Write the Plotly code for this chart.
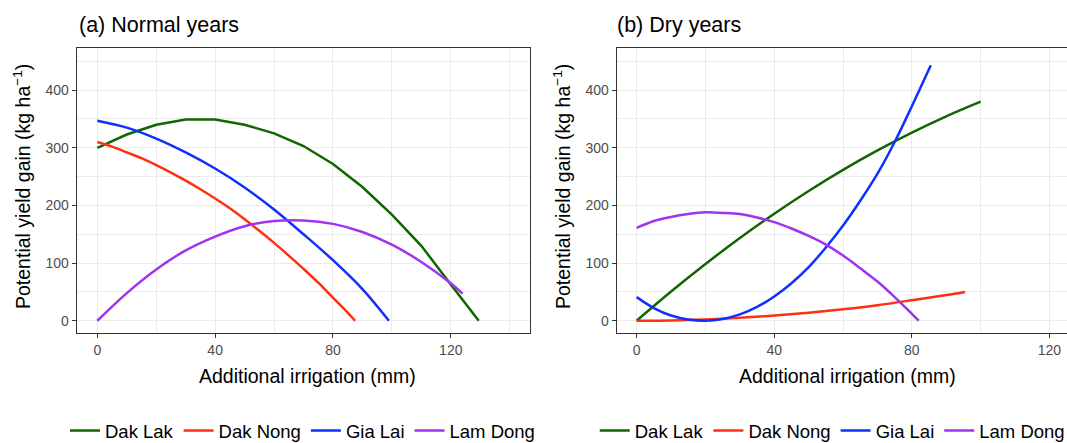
import plotly.graph_objects as go

regions = ["Dak Lak", "Dak Nong", "Gia Lai", "Lam Dong"]
colors = ["#116600", "#FF3010", "#1030FF", "#A033EE"]

# (a) Normal years
normal_x = {
    "Dak Lak": [0, 10, 20, 30, 40, 50, 60, 70, 80, 90, 100, 110, 120, 129.5],
    "Dak Nong": [0, 5, 10, 15, 20, 25, 30, 35, 40, 45, 50, 55, 60, 65, 70, 75, 80, 85, 87.5],
    "Gia Lai": [0, 10, 20, 30, 40, 50, 60, 70, 80, 90, 99],
    "Lam Dong": [0, 10, 20, 30, 40, 50, 60, 70, 80, 90, 100, 110, 120, 124],
}
normal_y = {
    "Dak Lak": [300, 323, 340, 349, 349, 340, 325, 303, 272, 232, 184, 130, 63, 0],
    "Dak Nong": [310, 302, 292, 282, 270, 257, 243, 228, 212, 195, 176, 156, 135, 113, 90, 66, 40, 14, 0],
    "Gia Lai": [347, 335, 316, 292, 264, 231, 193, 150, 105, 55, 0],
    "Lam Dong": [0, 48, 89, 122, 146, 164, 173, 174, 168, 154, 132, 102, 65, 47],
}

# (b) Dry years
dry_x = {
    "Dak Lak": [0, 10, 20, 30, 40, 50, 60, 70, 80, 90, 100],
    "Dak Nong": [0, 10, 20, 30, 40, 50, 60, 70, 80, 90, 95.5],
    "Gia Lai": [0, 5, 10, 15, 20, 25, 30, 35, 40, 45, 50, 55, 60, 65, 70, 75, 80, 85.5],
    "Lam Dong": [0, 5, 10, 15, 20, 25, 30, 35, 40, 45, 50, 55, 60, 65, 70, 75, 80, 82],
}
dry_y = {
    "Dak Lak": [0, 50.6, 98.4, 143.4, 185.6, 225, 261.6, 295.4, 326.4, 354.6, 380],
    "Dak Nong": [0, 0.6, 2.2, 5, 9, 14, 20, 27, 35.5, 44.5, 50],
    "Gia Lai": [41, 22, 9, 2, 0, 3, 11, 24, 42, 65, 93, 127, 165, 208, 255, 310, 372, 443],
    "Lam Dong": [161, 173, 180, 185, 188, 187, 185, 179, 171, 160, 147, 132, 113, 91, 68, 41, 12, 0],
}

x_ticks = [0, 40, 80, 120]
y_ticks = [0, 100, 200, 300, 400]

fig = go.Figure()
for name, col in zip(regions, colors):
    fig.add_trace(go.Scatter(
        x=normal_x[name], y=normal_y[name], mode="lines", name=name,
        line=dict(color=col, width=2.5, shape="linear" if name == "Dak Lak" else "spline"),
        xaxis="x", yaxis="y", legend="legend"))
for name, col in zip(regions, colors):
    fig.add_trace(go.Scatter(
        x=dry_x[name], y=dry_y[name], mode="lines", name=name,
        line=dict(color=col, width=2.5, shape="spline"),
        xaxis="x2", yaxis="y2", legend="legend2"))

FONT = "Liberation Sans, Arial, Helvetica, sans-serif"
grid = "#EBEBEB"
border = "#333333"
tickfont = dict(family=FONT, size=14, color="#4D4D4D")

def xax(domain, rng, anchor, mirror):
    return dict(domain=domain, range=rng, anchor=anchor, tickvals=x_ticks,
                showgrid=True, gridcolor=grid, gridwidth=1.1,
                minor=dict(dtick=20, tick0=0, showgrid=True, gridcolor=grid, gridwidth=0.55, ticks=""),
                showline=True, linecolor=border, linewidth=1.1, mirror=mirror,
                ticks="outside", ticklen=4, tickwidth=1.1, tickcolor=border,
                tickfont=tickfont, zeroline=False, automargin=False)

def yax(domain, anchor, mirror):
    return dict(domain=domain, range=[-21.8, 473], anchor=anchor, tickvals=y_ticks,
                showgrid=True, gridcolor=grid, gridwidth=1.1,
                minor=dict(dtick=50, tick0=0, showgrid=True, gridcolor=grid, gridwidth=0.55, ticks=""),
                showline=True, linecolor=border, linewidth=1.1, mirror=mirror,
                ticks="outside", ticklen=4, tickwidth=1.1, tickcolor=border,
                tickfont=tickfont, zeroline=False, automargin=False)

ydom = [0.2476, 0.8916]
legfont = dict(family=FONT, size=18.5, color="black")
fig.update_layout(
    width=1067, height=443,
    margin=dict(l=0, r=0, t=0, b=0, autoexpand=False),
    paper_bgcolor="white", plot_bgcolor="white",
    font=dict(family=FONT, color="black"),
    xaxis=xax([0.0719, 0.497], [-7, 147], "y", True),
    yaxis=yax(ydom, "x", True),
    xaxis2=xax([0.578, 1.0], [-5.8, 125.1], "y2", True),
    yaxis2=yax(ydom, "x2", False),
    legend=dict(orientation="h", x=0.2835, xanchor="center", y=12 / 443, yanchor="middle",
                bgcolor="rgba(0,0,0,0)", font=legfont, itemwidth=30, tracegroupgap=0),
    legend2=dict(orientation="h", x=0.78, xanchor="center", y=12 / 443, yanchor="middle",
                 bgcolor="rgba(0,0,0,0)", font=legfont, itemwidth=30, tracegroupgap=0),
)

ytitle = "Potential yield gain (kg ha<sup>\u22121</sup>)"
xtitle = "Additional irrigation (mm)"
ann = [
    dict(text="(a) Normal years", x=77 / 1067, y=1 - 25 / 443, xanchor="left", yanchor="middle", font=dict(size=21.5)),
    dict(text="(b) Dry years", x=615 / 1067, y=1 - 25 / 443, xanchor="left", yanchor="middle", font=dict(size=21.5)),
    dict(text=ytitle, x=22 / 1067, y=1 - 187 / 443, textangle=-90, xanchor="center", yanchor="middle", font=dict(size=19.5)),
    dict(text=ytitle, x=562 / 1067, y=1 - 187 / 443, textangle=-90, xanchor="center", yanchor="middle", font=dict(size=19.5)),
    dict(text=xtitle, x=307 / 1067, y=1 - 376 / 443, xanchor="center", yanchor="middle", font=dict(size=19.5)),
    dict(text=xtitle, x=847 / 1067, y=1 - 376 / 443, xanchor="center", yanchor="middle", font=dict(size=19.5)),
]
for a in ann:
    a.update(xref="paper", yref="paper", showarrow=False)
fig.update_layout(annotations=ann)

fig.write_html("out.html", config={"displayModeBar": False},
               post_script="document.body.style.margin='0';document.body.style.overflow='hidden';")
